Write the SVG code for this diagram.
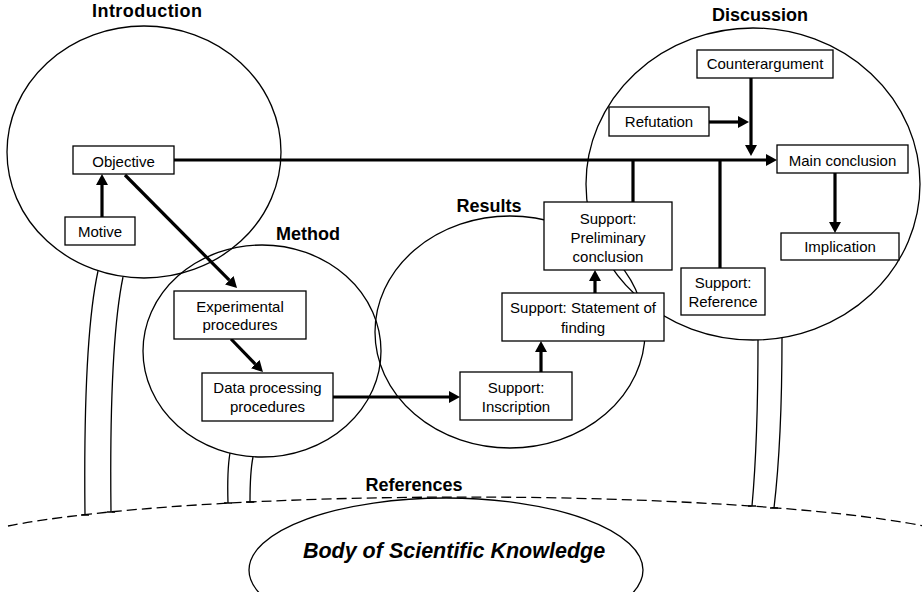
<svg xmlns="http://www.w3.org/2000/svg" width="922" height="592" viewBox="0 0 922 592">
<style>
.sec{fill:none;stroke:#000;stroke-width:1.3}
.pil{fill:none;stroke:#000;stroke-width:1.3}
.box{fill:#fff;stroke:#000;stroke-width:1.3}
.con{fill:none;stroke:#000;stroke-width:3.2}
.arr{marker-end:url(#ah)}
.t{font-family:"Liberation Sans",Arial,sans-serif;font-size:15px;text-anchor:middle;fill:#000}
.h{font-family:"Liberation Sans",Arial,sans-serif;font-size:18px;font-weight:bold;text-anchor:middle;fill:#000}
</style>
<defs>
<marker id="ah" markerUnits="userSpaceOnUse" markerWidth="12" markerHeight="12" refX="0" refY="6" orient="auto">
<path d="M0,0 L11,6 L0,12 z" fill="#000"/>
</marker>
</defs>
<rect width="922" height="592" fill="#fff"/>

<g id="sections">
<ellipse id="introduction-circle" class="sec" cx="144" cy="152" rx="137" ry="126"/>
<ellipse id="method-circle" class="sec" cx="262" cy="351" rx="119" ry="106"/>
<ellipse id="results-circle" class="sec" cx="510" cy="332" rx="135" ry="116"/>
<ellipse id="discussion-circle" class="sec" cx="753" cy="184" rx="167" ry="156"/>
</g>

<g id="pillars">
<path class="pil" d="M98 271 Q83 340 85 515 M81 515 H89"/>
<path class="pil" d="M123 277 Q109 345 111 512 M107 512 H115"/>
<path class="pil" d="M230 453 Q227 470 228 503 M224 503 H232"/>
<path class="pil" d="M253 457 Q250 472 250 502 M246 502 H254"/>
<path class="pil" d="M758 340 Q758 440 752 506 M748 506 H756"/>
<path class="pil" d="M782 338 Q782 440 774 508 M770 508 H778"/>
</g>

<g id="references">
<path d="M8 526 A520 55 0 0 1 922 525.6" fill="none" stroke="#000" stroke-width="1.3" stroke-dasharray="10 5"/>
<text class="h" x="414" y="491">References</text>
</g>

<g id="body-of-knowledge">
<ellipse cx="446" cy="570" rx="197" ry="72" fill="none" stroke="#000" stroke-width="1.3"/>
<text x="454" y="558" font-family="'Liberation Sans',Arial,sans-serif" font-size="21.5" font-weight="bold" font-style="italic" text-anchor="middle">Body of Scientific Knowledge</text>
</g>

<g id="headings">
<text class="h" x="147" y="17" textLength="110">Introduction</text>
<text class="h" x="308" y="240">Method</text>
<text class="h" x="489" y="212">Results</text>
<text class="h" x="760" y="21">Discussion</text>
</g>

<g id="connectors">
<line class="con" x1="174" y1="160" x2="766" y2="160" marker-end="url(#ah)"/>
<line class="con" x1="102" y1="217" x2="102" y2="185" marker-end="url(#ah)"/>
<line class="con" x1="125" y1="175" x2="229.3" y2="280.2" marker-end="url(#ah)"/>
<line class="con" x1="231" y1="339" x2="255.3" y2="364.1" marker-end="url(#ah)"/>
<line class="con" x1="333" y1="397" x2="449" y2="397" marker-end="url(#ah)"/>
<line class="con" x1="541" y1="372" x2="541" y2="352" marker-end="url(#ah)"/>
<line class="con" x1="595" y1="293" x2="595" y2="281" marker-end="url(#ah)"/>
<line class="con" x1="633" y1="202" x2="633" y2="160"/>
<line class="con" x1="720" y1="268" x2="720" y2="160"/>
<line class="con" x1="751" y1="78" x2="751" y2="145" marker-end="url(#ah)"/>
<line class="con" x1="709" y1="122" x2="738" y2="122" marker-end="url(#ah)"/>
<line class="con" x1="835" y1="173" x2="835" y2="222" marker-end="url(#ah)"/>
</g>

<g id="objective"><rect class="box" x="73" y="146" width="101" height="28"/><text class="t" x="123.5" y="167">Objective</text></g>
<g id="motive"><rect class="box" x="65" y="217" width="70" height="28"/><text class="t" x="100" y="237">Motive</text></g>
<g id="experimental-procedures"><rect class="box" x="174" y="291" width="132" height="48"/><text class="t" x="240" y="312">Experimental</text><text class="t" x="240" y="330">procedures</text></g>
<g id="data-processing-procedures"><rect class="box" x="202" y="373" width="131" height="48"/><text class="t" x="267.5" y="393">Data processing</text><text class="t" x="267.5" y="412">procedures</text></g>
<g id="support-inscription"><rect class="box" x="460" y="372" width="112" height="48"/><text class="t" x="516" y="393">Support:</text><text class="t" x="516" y="412">Inscription</text></g>
<g id="support-statement"><rect class="box" x="502" y="293" width="162" height="48"/><text class="t" x="583" y="313">Support: Statement of</text><text class="t" x="583" y="333">finding</text></g>
<g id="support-preliminary"><rect class="box" x="544" y="202" width="128" height="68"/><text class="t" x="608" y="224">Support:</text><text class="t" x="608" y="243">Preliminary</text><text class="t" x="608" y="262">conclusion</text></g>
<g id="counterargument"><rect class="box" x="697" y="50" width="136" height="28"/><text class="t" x="765" y="69">Counterargument</text></g>
<g id="refutation"><rect class="box" x="609" y="107" width="100" height="29"/><text class="t" x="659" y="127">Refutation</text></g>
<g id="main-conclusion"><rect class="box" x="777" y="145" width="131" height="28"/><text class="t" x="842.5" y="166">Main conclusion</text></g>
<g id="implication"><rect class="box" x="781" y="233" width="118" height="27"/><text class="t" x="840" y="252">Implication</text></g>
<g id="support-reference"><rect class="box" x="681" y="268" width="84" height="47"/><text class="t" x="723" y="288">Support:</text><text class="t" x="723" y="307">Reference</text></g>
</svg>
